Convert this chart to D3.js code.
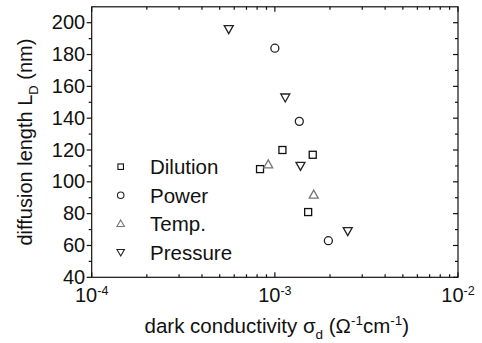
<!DOCTYPE html>
<html>
<head>
<meta charset="utf-8">
<script src="https://cdn.jsdelivr.net/npm/d3@7"></script>
<style>
  body { margin: 0; background: #fff; }
  text { font-family: Arial, "Liberation Sans", sans-serif; fill: #111; }
</style>
</head>
<body>
<div id="chart"></div>
<script>
// diffusion length vs dark conductivity

var dilutionX = [8.3e-4, 1.10e-3, 1.61e-3, 1.52e-3],
    dilutionY = [108, 120, 117, 81];
var powerX = [1.0e-3, 1.36e-3, 1.96e-3],
    powerY = [184, 138, 63];
var tempX = [9.2e-4, 1.63e-3],
    tempY = [111, 92];
var pressureX = [5.6e-4, 1.14e-3, 1.38e-3, 2.50e-3],
    pressureY = [196, 153, 110, 69];

var yTicks = [40, 60, 80, 100, 120, 140, 160, 180, 200];
var xTickExp = [-4, -3, -2];
var seriesNames = ["Dilution", "Power", "Temp.", "Pressure"];

var w = 482, h = 343;
var m = {left: 91.7, right: 458, top: 6.8, bottom: 277.3};

var svg = d3.select("#chart").append("svg")
  .attr("width", w)
  .attr("height", h);

var x = d3.scaleLog().domain([1e-4, 1e-2]).range([m.left, m.right]);
var y = d3.scaleLinear().domain([40, 210]).range([m.bottom, m.top]);

var minorX = [];
[-4, -3].forEach(function(e) {
  for (var k = 2; k < 10; k++) minorX.push(k * Math.pow(10, e));
});
var majorX = xTickExp.map(function(e) { return Math.pow(10, e); });
var minorY = d3.range(50, 210, 20);

var ax = svg.append("g").attr("stroke", "#111").attr("stroke-width", 1.2);

// bottom + top ticks (inward)
majorX.concat(minorX).forEach(function(v) {
  var len = majorX.indexOf(v) >= 0 ? 5 : 3;
  ax.append("line").attr("x1", x(v)).attr("x2", x(v))
    .attr("y1", m.bottom).attr("y2", m.bottom - len);
  ax.append("line").attr("x1", x(v)).attr("x2", x(v))
    .attr("y1", m.top).attr("y2", m.top + len);
});

// left ticks (outward), right ticks (inward)
yTicks.concat(minorY).forEach(function(v) {
  var len = yTicks.indexOf(v) >= 0 ? 5 : 3;
  ax.append("line").attr("x1", m.left).attr("x2", m.left - len)
    .attr("y1", y(v)).attr("y2", y(v));
  ax.append("line").attr("x1", m.right).attr("x2", m.right - len)
    .attr("y1", y(v)).attr("y2", y(v));
});

ax.append("rect")
  .attr("x", m.left).attr("y", m.top)
  .attr("width", m.right - m.left).attr("height", m.bottom - m.top)
  .attr("fill", "none");

// y tick labels
svg.selectAll(".ylab")
  .data(yTicks)
.enter().append("text")
  .attr("class", "ylab")
  .attr("x", m.left - 6.5)
  .attr("y", function(d) { return y(d); })
  .attr("dy", "0.33em")
  .attr("text-anchor", "end")
  .style("font-size", "20px")
  .text(String);

// x tick labels 10^n
var xl = svg.selectAll(".xlab")
  .data(xTickExp)
.enter().append("text")
  .attr("class", "xlab")
  .attr("x", function(d) { return x(Math.pow(10, d)); })
  .attr("y", 302)
  .attr("text-anchor", "middle")
  .style("font-size", "20px");
xl.append("tspan").text("10");
xl.append("tspan").attr("dy", -7.5).style("font-size", "12.5px").text(function(d) { return String(d); });

// axis titles
var xt = svg.append("text")
  .attr("x", (m.left + m.right) / 2 + 2)
  .attr("y", 333)
  .attr("text-anchor", "middle")
  .style("font-size", "20.5px");
xt.append("tspan").text("dark conductivity \u03c3");
xt.append("tspan").attr("dy", 6).style("font-size", "13.5px").text("d");
xt.append("tspan").attr("dy", -6).text(" (\u03a9");
xt.append("tspan").attr("dy", -8).style("font-size", "13.5px").text("-1");
xt.append("tspan").attr("dy", 8).text("cm");
xt.append("tspan").attr("dy", -8).style("font-size", "13.5px").text("-1");
xt.append("tspan").attr("dy", 8).text(")");

var yt = svg.append("text")
  .attr("transform", "translate(31.5," + ((m.top + m.bottom) / 2) + ") rotate(-90)")
  .attr("text-anchor", "middle")
  .style("font-size", "20px");
yt.append("tspan").text("diffusion length L");
yt.append("tspan").attr("dy", 6).style("font-size", "13px").text("D");
yt.append("tspan").attr("dy", -6).text(" (nm)");

// markers
function square(g, s) {
  g.append("rect").attr("x", -s / 2).attr("y", -s / 2).attr("width", s).attr("height", s);
}
function circle(g, s) {
  g.append("circle").attr("r", s / 2);
}
function triUp(g, s) {
  g.append("path").attr("d", "M0," + (-s / 2) + "L" + (s / 2) + "," + (s / 2 - 1) + "L" + (-s / 2) + "," + (s / 2 - 1) + "Z");
}
function triDown(g, s) {
  g.append("path").attr("d", "M0," + (s / 2) + "L" + (s / 2) + "," + (-s / 2 + 1) + "L" + (-s / 2) + "," + (-s / 2 + 1) + "Z");
}

var series = [
  {xs: dilutionX, ys: dilutionY, shape: square, size: 7, color: "#111"},
  {xs: powerX, ys: powerY, shape: circle, size: 8, color: "#222"},
  {xs: tempX, ys: tempY, shape: triUp, size: 9, color: "#777"},
  {xs: pressureX, ys: pressureY, shape: triDown, size: 9, color: "#222"}
];

series.forEach(function(s) {
  var pts = svg.selectAll(null)
    .data(d3.zip(s.xs, s.ys))
  .enter().append("g")
    .attr("fill", "none")
    .attr("stroke", s.color)
    .attr("stroke-width", 1.3)
    .attr("transform", function(d) { return "translate(" + x(d[0]) + "," + y(d[1]) + ")"; });
  pts.each(function() { s.shape(d3.select(this), s.size); });
});

// legend
var lg = svg.selectAll(".leg")
  .data(seriesNames)
.enter().append("g")
  .attr("class", "leg")
  .attr("transform", function(d, i) { return "translate(120.7," + (166.7 + i * 28.5) + ")"; });

lg.each(function(d, i) {
  var g = d3.select(this).append("g")
    .attr("fill", "none")
    .attr("stroke", series[i].color)
    .attr("stroke-width", 1.1);
  series[i].shape(g, series[i].size - 1.5);
});

lg.append("text")
  .attr("x", 29.3)
  .attr("dy", "0.36em")
  .style("font-size", "20.5px")
  .text(String);
</script>
</body>
</html>
